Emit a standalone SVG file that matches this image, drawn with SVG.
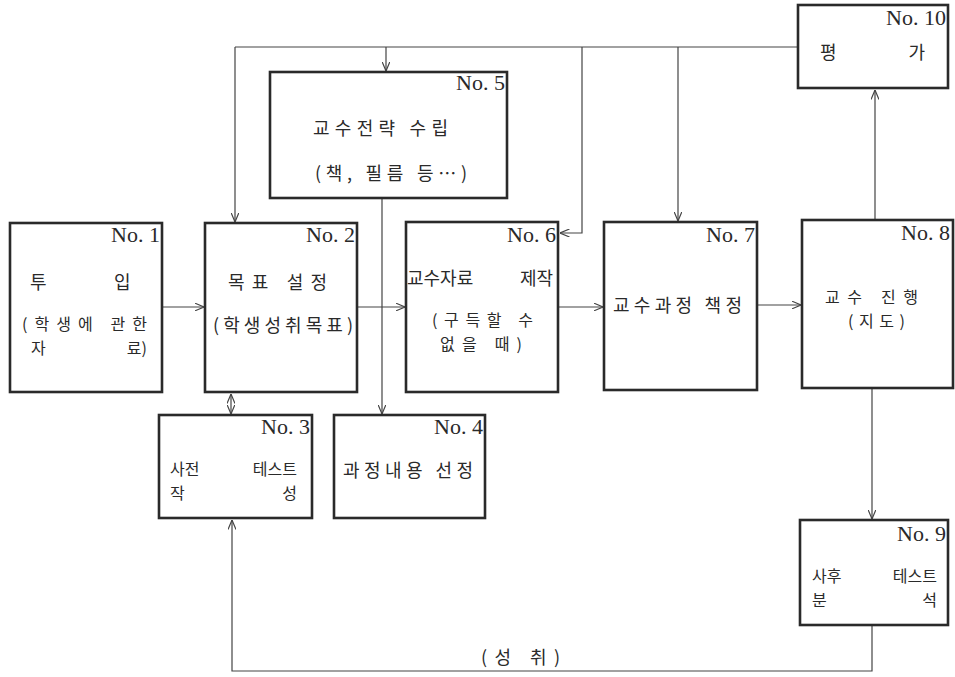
<svg xmlns="http://www.w3.org/2000/svg" width="955" height="677" viewBox="0 0 955 677">
<style>
.box{fill:none;stroke:#2a2a2a;stroke-width:2.6}
.no{font-family:"Liberation Serif","DejaVu Serif",serif;font-size:22px;fill:#2a2a2a;text-anchor:end}
.kr{font-family:"Noto Sans CJK KR","Noto Sans",sans-serif;font-size:18px;fill:#2a2a2a}
.k2{font-family:"Noto Sans CJK KR","Noto Sans",sans-serif;font-size:16px;fill:#2a2a2a}
.ln{fill:none;stroke:#444;stroke-width:1.2}
</style>
<defs>
<marker id="ah" viewBox="0 0 10 8" refX="9.5" refY="4" markerWidth="10" markerHeight="8" markerUnits="userSpaceOnUse" orient="auto-start-reverse">
<path d="M0,0 L9.5,4 L0,8" fill="none" stroke="#444" stroke-width="1.2"/>
</marker>
</defs>
<rect width="955" height="677" fill="#fff"/>
<g id="connectors">
<path class="ln" d="M235,47 H798"/>
<path class="ln" d="M235,47 V222" marker-end="url(#ah)"/>
<path class="ln" d="M386,47 V71" marker-end="url(#ah)"/>
<path class="ln" d="M582,47 V233 H560" marker-end="url(#ah)"/>
<path class="ln" d="M678,47 V221" marker-end="url(#ah)"/>
<path class="ln" d="M875,220 V90" marker-end="url(#ah)"/>
<path class="ln" d="M382,198 V414" marker-end="url(#ah)"/>
<path class="ln" d="M163,307 H204" marker-end="url(#ah)"/>
<path class="ln" d="M358,307 H405" marker-end="url(#ah)"/>
<path class="ln" d="M559,307 H603" marker-end="url(#ah)"/>
<path class="ln" d="M758,305 H801" marker-end="url(#ah)"/>
<path class="ln" d="M231,394 V414" marker-start="url(#ah)" marker-end="url(#ah)"/>
<path class="ln" d="M872,389 V519" marker-end="url(#ah)"/>
<path class="ln" d="M872,626 V671 H232 V520" marker-end="url(#ah)"/>
<text class="kr" x="481" y="664" textLength="79">(성  취)</text>
</g>
<g id="n1">
<rect class="box" x="10" y="223" width="152" height="169"/>
<text class="no" x="160" y="242">No. 1</text>
<text class="kr" y="289"><tspan x="30">투</tspan><tspan x="114">입</tspan></text>
<text class="k2" x="22" y="330" textLength="125">(학생에 관한</text>
<text class="k2" y="354"><tspan x="31">자</tspan><tspan x="147" text-anchor="end">료)</tspan></text>
</g>
<g id="n2">
<rect class="box" x="205" y="223" width="152" height="169"/>
<text class="no" x="355" y="242">No. 2</text>
<text class="kr" x="228" y="289" textLength="99">목표 설정</text>
<text class="kr" x="213" y="332" textLength="140">(학생성취목표)</text>
</g>
<g id="n3">
<rect class="box" x="159" y="415" width="153" height="103"/>
<text class="no" x="310" y="434">No. 3</text>
<text class="k2" y="475"><tspan x="170">사전</tspan><tspan x="297" text-anchor="end">테스트</tspan></text>
<text class="k2" y="499"><tspan x="170">작</tspan><tspan x="297" text-anchor="end">성</tspan></text>
</g>
<g id="n4">
<rect class="box" x="334" y="415" width="151" height="103"/>
<text class="no" x="483" y="434">No. 4</text>
<text class="kr" x="343" y="477" textLength="130">과정내용 선정</text>
</g>
<g id="n5">
<rect class="box" x="270" y="72" width="237" height="126"/>
<text class="no" x="505" y="90">No. 5</text>
<text class="kr" x="313" y="135" textLength="135">교수전략 수립</text>
<text class="kr" x="315" y="180" textLength="152">(책, 필름 등…)</text>
</g>
<g id="n6">
<rect class="box" x="406" y="222" width="152" height="170"/>
<text class="no" x="556" y="242">No. 6</text>
<text class="kr" y="285"><tspan x="407">교수자료</tspan><tspan x="553" text-anchor="end">제작</tspan></text>
<text class="k2" x="432" y="326" textLength="101">(구득할 수</text>
<text class="k2" x="440" y="350" textLength="82">없을 때)</text>
</g>
<g id="n7">
<rect class="box" x="604" y="222" width="153" height="168"/>
<text class="no" x="755" y="242">No. 7</text>
<text class="kr" x="613" y="312" textLength="129">교수과정 책정</text>
</g>
<g id="n8">
<rect class="box" x="802" y="220" width="151" height="168"/>
<text class="no" x="950" y="240">No. 8</text>
<text class="k2" x="825" y="303" textLength="93">교수 진행</text>
<text class="k2" x="848" y="327" textLength="57">(지도)</text>
</g>
<g id="n9">
<rect class="box" x="800" y="520" width="148" height="105"/>
<text class="no" x="946" y="541">No. 9</text>
<text class="k2" y="582"><tspan x="812">사후</tspan><tspan x="937" text-anchor="end">테스트</tspan></text>
<text class="k2" y="606"><tspan x="812">분</tspan><tspan x="937" text-anchor="end">석</tspan></text>
</g>
<g id="n10">
<rect class="box" x="798" y="5" width="150" height="83"/>
<text class="no" x="946" y="25">No. 10</text>
<text class="kr" y="59"><tspan x="820">평</tspan><tspan x="925" text-anchor="end">가</tspan></text>
</g>
</svg>
